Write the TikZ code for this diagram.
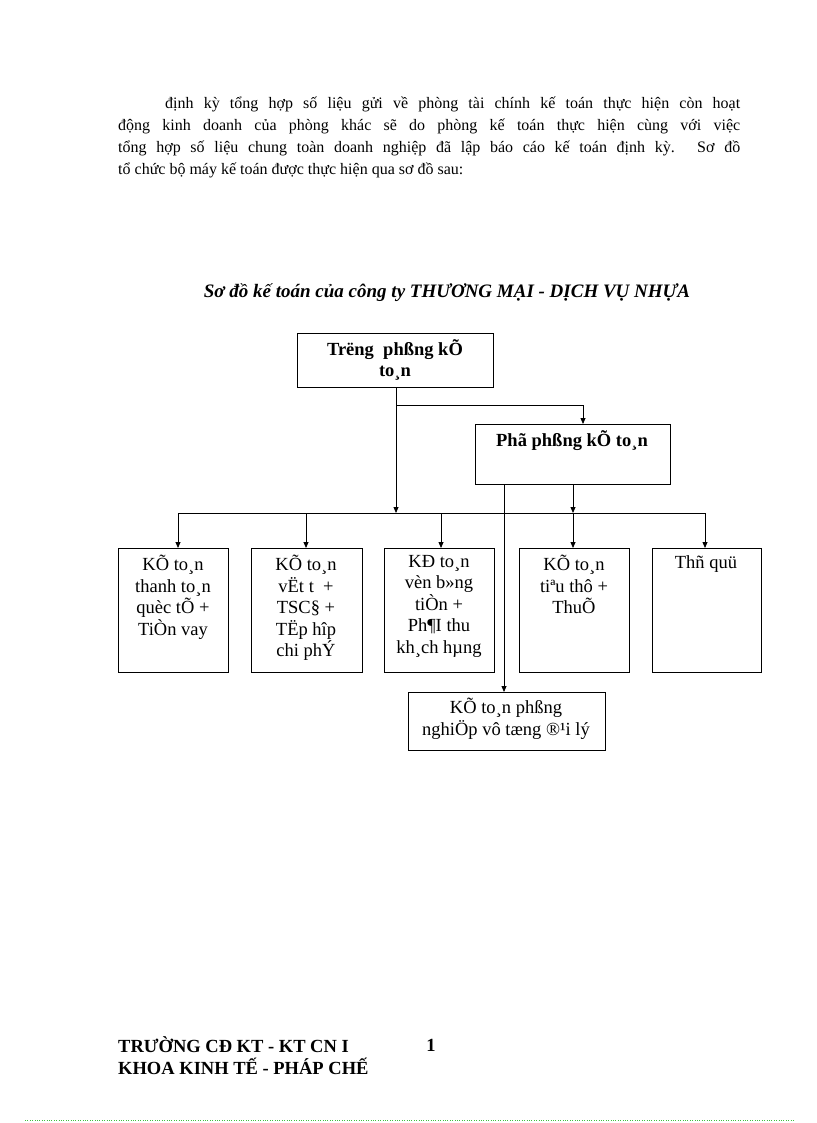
\documentclass[tikz,border=0pt]{standalone}
\usepackage{fontspec}
\setmainfont{Liberation Serif}
\usetikzlibrary{arrows.meta}
\begin{document}
\begin{tikzpicture}[x=1pt,y=-1pt,
  box/.style={draw,thick,inner sep=0pt},
  lbl/.style={anchor=north,align=center,inner sep=0pt,font=\fontsize{18.5}{21.5}\selectfont},
  con/.style={thick,-{Triangle[length=6pt,width=5pt]}},
  ln/.style={thick}]
\useasboundingbox (0,0) rectangle (816,1123);
\node[anchor=north west,text width=622pt,align=justify,inner sep=0pt,font=\fontsize{16}{22}\selectfont] (para) at (118,97)
 {\hspace*{47pt}định kỳ tổng hợp số liệu gửi về phòng tài chính kế toán thực hiện còn hoạt\linebreak động kinh doanh của phòng khác sẽ do phòng kế toán thực hiện cùng với việc\linebreak tổng hợp số liệu chung toàn doanh nghiệp đã lập báo cáo kế toán định kỳ. Sơ đồ\linebreak tổ chức bộ máy kế toán được thực hiện qua sơ đồ sau:};
\node[font=\fontsize{19}{22}\selectfont\bfseries\itshape] (title) at (447,293) {Sơ đồ kế toán của công ty THƯƠNG MẠI - DỊCH VỤ NHỰA};
% boxes
\draw[box] (297,333) rectangle (493,387);
\node[lbl,font=\fontsize{18.5}{21.5}\selectfont\bfseries] (top) at (395,339) {Trëng\ \ phßng kÕ\\to¸n};
\draw[box] (475,424) rectangle (670,484);
\node[lbl,font=\fontsize{18.5}{21.5}\selectfont\bfseries] (dep) at (572,430) {Phã phßng kÕ to¸n};
\draw[box] (118,548) rectangle (228,672);
\node[lbl] (b1) at (173,555) {KÕ to¸n\\thanh to¸n\\quèc tÕ +\\TiÒn vay};
\draw[box] (251,548) rectangle (362,672);
\node[lbl] (b2) at (306,555) {KÕ to¸n\\vËt t\ \ +\\TSC§ +\\TËp hîp\\chi phÝ};
\draw[box] (384,548) rectangle (494,672);
\node[lbl] (b3) at (439,555) {KÐ to¸n\\vèn b»ng\\tiÒn +\\Ph¶I thu\\kh¸ch hµng};
\draw[box] (519,548) rectangle (629,672);
\node[lbl] (b4) at (574,555) {KÕ to¸n\\tiªu thô +\\ThuÕ};
\draw[box] (652,548) rectangle (761,672);
\node[lbl] (b5) at (706,555) {Thñ quü};
\draw[box] (408,692) rectangle (605,750);
\node[lbl] (b6) at (506,698) {KÕ to¸n phßng\\nghiÖp vô tæng ®¹i lý};
% connectors
\coordinate (t0) at (396,387);
\coordinate (bus) at (396,513);
\draw[con] (t0) -- (bus);
\draw[con] (396,405) -- (583,405) -- (583,424);
\draw[ln] (178,513) -- (705,513);
\foreach \x in {178,306,441,705} \draw[con] (\x,513) -- (\x,548);
\draw[con] (573,484) -- (573,513);
\draw[con] (573,513) -- (573,548);
\draw[con] (504,484) -- (504,692);
% footer
\node[anchor=west,font=\fontsize{18.5}{21}\selectfont\bfseries,inner sep=0pt] (f1) at (118,1045) {TRƯỜNG CĐ KT - KT CN I};
\node[anchor=west,font=\fontsize{18.5}{21}\selectfont\bfseries,inner sep=0pt] (f2) at (118,1066) {KHOA KINH TẾ - PHÁP CHẾ};
\node[font=\fontsize{18.5}{21}\selectfont\bfseries,inner sep=0pt] (pg) at (431,1045) {1};
\draw[green!50!gray,dotted] (25,1120) -- (795,1120);
\end{tikzpicture}
\end{document}
